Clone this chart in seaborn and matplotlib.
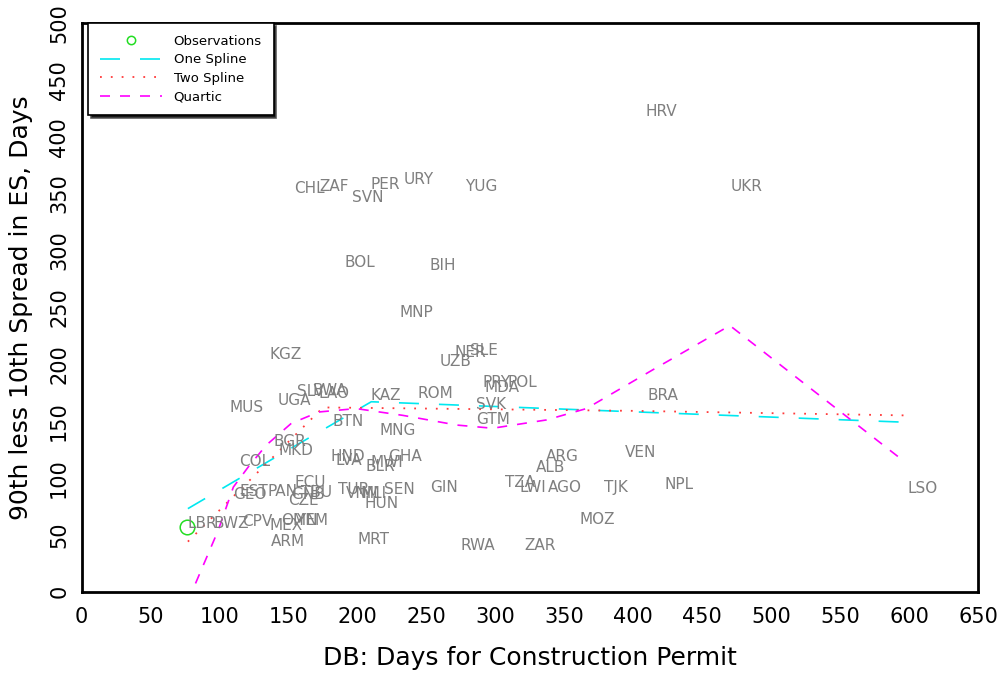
import matplotlib
matplotlib.use("Agg")
import matplotlib.pyplot as plt
import seaborn as sns
from matplotlib.lines import Line2D
from matplotlib.legend_handler import HandlerLine2D

# ── Data ──────────────────────────────────────────────────────────────────────

codes = ["HRV", "UKR", "CHL", "ZAF", "PER", "URY", "SVN", "YUG", "BOL", "BIH",
         "MNP", "KGZ", "NER", "SLE", "UZB", "PRY", "POL", "MDA", "SVK", "GTM",
         "BRA", "ARG", "VEN", "ALB", "TZA", "LWI", "AGO", "GIN", "TJK", "NPL",
         "MOZ", "RWA", "ZAR", "LSO", "MUS", "UGA", "SLV", "BWA", "LAO", "KAZ",
         "ROM", "BTN", "MNG", "BGR", "MKD", "COL", "HND", "LVA", "MWI", "BLR",
         "GHA", "ECU", "EST", "GEO", "PAN", "GNB", "TBU", "CZE", "TUR", "VNM",
         "MLI", "HUN", "SEN", "MRT", "ARM", "CPV", "MEX", "OMN", "YEM", "LBR",
         "BWZ"]
label_x = [408.9, 470.5, 153.8, 172.0, 209.6, 233.6, 195.9, 277.8, 190.8, 252.4,
           230.7, 136.4, 270.5, 281.4, 259.6, 290.8, 309.0, 292.3, 285.7, 285.7,
           410.4, 336.5, 393.7, 329.2, 306.7, 317.6, 337.9, 252.4, 378.5, 422.7,
           361.1, 274.9, 321.3, 598.8, 107.5, 142.2, 156.0, 167.6, 172.0, 209.6,
           243.7, 182.1, 216.2, 139.3, 143.0, 114.0, 180.7, 184.3, 209.6, 206.0,
           222.0, 154.6, 114.7, 109.6, 135.0, 151.7, 159.0, 149.5, 185.7, 191.5,
           202.4, 205.3, 219.1, 200.2, 137.2, 116.2, 136.5, 144.4, 155.3, 77.0,
           95.8]
label_y = [418.4, 352.4, 350.7, 352.4, 354.1, 358.5, 342.8, 352.4, 285.6, 282.9,
           241.6, 204.7, 206.5, 208.2, 198.5, 180.0, 180.0, 175.6, 160.6, 147.4,
           168.5, 114.6, 118.1, 105.0, 91.8, 87.4, 87.4, 87.4, 87.4, 90.0,
           59.2, 36.5, 36.5, 86.8, 158.0, 164.2, 172.1, 173.0, 170.3, 168.6,
           170.3, 145.7, 137.8, 128.1, 120.2, 110.5, 114.9, 111.4, 109.7, 106.2,
           114.9, 92.1, 84.2, 81.5, 84.2, 81.5, 83.3, 76.2, 85.9, 82.4,
           82.4, 73.6, 85.9, 41.9, 40.2, 57.8, 54.3, 58.6, 58.6, 56.0,
           56.0]

obs_x = [76.3]
obs_y = [56.9]

one_spline_x = [77, 136, 210, 597]
one_spline_y = [73, 115, 167, 149]

two_spline_x = [77, 175, 400, 597]
two_spline_y = [44, 162, 159, 155]

quartic_x = [77, 80, 99, 110, 121, 134, 152, 172, 199, 233, 272, 298, 337, 366,
             414, 460, 470, 597]
quartic_y = [-9, 0, 54, 92, 110, 129, 148, 158, 161, 155, 146.5, 143.7, 151, 161,
             195, 227, 234, 114]

x_ticks = list(range(0, 651, 50))
y_ticks = list(range(0, 501, 50))


class LeftMarkerHandler(HandlerLine2D):
    # put the legend marker at the left end of the handle
    def get_xdata(self, legend, xdescent, ydescent, width, height, fontsize):
        xdata = [-xdescent, -xdescent + width]
        return xdata, [-xdescent + 0.07 * width]


# ── Plot ──────────────────────────────────────────────────────────────────────

sns.set_style("white")
plt.rcParams["font.family"] = ["DejaVu Sans"]
plt.rcParams["text.color"] = "black"
plt.rcParams["axes.labelcolor"] = "black"

fig = plt.figure(figsize=(10.01, 6.79), dpi=100)
ax = fig.add_axes([0.0816, 0.1286, 0.8955, 0.8375])

sns.lineplot(x=one_spline_x, y=one_spline_y, ax=ax, color="#00e8f0", lw=1.2,
             linestyle=(0, (12, 12)), errorbar=None, label="One Spline")
sns.lineplot(x=two_spline_x, y=two_spline_y, ax=ax, color="#ff3a3a", lw=1.3,
             linestyle=(0, (1, 5)), errorbar=None, label="Two Spline")
sns.lineplot(x=quartic_x, y=quartic_y, ax=ax, color="#ff00ff", lw=1.2,
             linestyle=(0, (6, 6)), errorbar=None, label="Quartic")
ax.plot(obs_x, obs_y, ls="none", marker="o", ms=10.5, mfc="none",
        mec="#22dd22", mew=1.1)

for c, x, y in zip(codes, label_x, label_y):
    ax.text(x, y, c, ha="left", va="baseline", fontsize=11, color="#7f7f7f")

ax.set_xlim(0, 650)
ax.set_ylim(0, 500)
ax.set_xticks(x_ticks)
ax.set_yticks(y_ticks)
ax.tick_params(direction="in", length=5, width=1.2, labelsize=15, colors="black")
ax.tick_params(axis="x", pad=11)
ax.tick_params(axis="y", pad=9, labelrotation=90)
for lab in ax.get_yticklabels():
    lab.set_va("center")
for s in ax.spines.values():
    s.set_color("black")
    s.set_linewidth(2)

ax.set_xlabel("DB: Days for Construction Permit", fontsize=18, labelpad=14)
ax.set_ylabel("90th less 10th Spread in ES, Days", fontsize=18, labelpad=12)

h_obs = Line2D([], [], ls="none", marker="o", ms=6, mfc="none", mec="#22dd22", mew=1.1)
handles, labels = ax.get_legend_handles_labels()
leg = ax.legend([h_obs] + handles, ["Observations"] + labels,
                handler_map={h_obs: LeftMarkerHandler()},
                loc="upper left", bbox_to_anchor=(0.007, 1.0), borderaxespad=0,
                fontsize=9.5, frameon=True, fancybox=False, framealpha=1,
                edgecolor="black", borderpad=0.9, labelspacing=0.42,
                handlelength=4.7, handletextpad=0.9, labelcolor="black",
                shadow={"facecolor": "black", "alpha": 0.9})
leg.get_frame().set_linewidth(1.2)

fig.savefig("out.png", dpi=100)
